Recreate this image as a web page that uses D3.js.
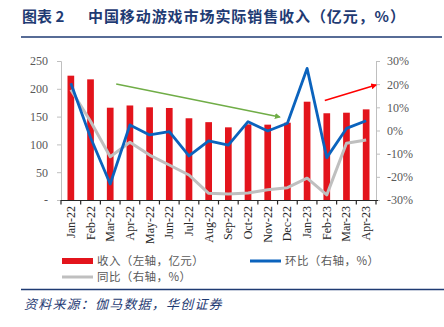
<!DOCTYPE html>
<html>
<head>
<meta charset="utf-8">
<script src="https://cdn.jsdelivr.net/npm/d3@7"></script>
<style>
  html, body { margin: 0; padding: 0; background: #fff; }
  svg { display: block; }
</style>
</head>
<body>
<svg id="chart" width="444" height="327"></svg>
<script>
// Monthly categories
const months = ["Jan-22","Feb-22","Mar-22","Apr-22","May-22","Jun-22","Jul-22","Aug-22",
                "Sep-22","Oct-22","Nov-22","Dec-22","Jan-23","Feb-23","Mar-23","Apr-23"];
// Actual sales revenue (100 million yuan), left axis
const revenue = [223.6, 217.0, 166.0, 170.0, 166.7, 165.5, 147.0, 140.0,
                 130.7, 136.0, 135.5, 139.0, 176.8, 156.0, 157.0, 163.0];
// Month-on-month change (%), right axis
const mom = [20.4, -3.0, -23.1, 2.4, -1.9, -0.5, -11.0, -4.5,
             -6.3, 3.8, -0.2, 3.1, 26.8, -11.7, 0.9, 4.2];
// Year-on-year change (%), right axis
const yoy = [17.6, 4.0, -11.3, -5.1, -10.6, -14.9, -19.2, -27.1,
             -27.4, -27.0, -25.6, -24.7, -20.6, -27.8, -5.5, -4.1];
// Axis tick values
const leftTicks = [0, 50, 100, 150, 200, 250];
const rightTicks = [-30, -20, -10, 0, 10, 20, 30];

const svg = d3.select("#chart");
const plot = { left: 61, right: 376, top: 61, bottom: 200 };

const serif = "'Liberation Serif', 'DejaVu Serif', serif";
const cjk = "'Noto Sans CJK SC', sans-serif";
const navy = "#1f3b73";

// Title and rules
svg.append("text").attr("x", 22).attr("y", 22)
  .attr("font-family", cjk).attr("font-weight", 700).attr("font-size", 15)
  .attr("fill", navy).text("图表 2");
svg.append("text").attr("x", 88).attr("y", 22)
  .attr("font-family", cjk).attr("font-weight", 700).attr("font-size", 15)
  .attr("fill", navy)
  .attr("textLength", 317).attr("lengthAdjust", "spacing")
  .text("中国移动游戏市场实际销售收入（亿元，%）");
svg.append("line").attr("x1", 21).attr("x2", 442).attr("y1", 37).attr("y2", 37)
  .attr("stroke", navy).attr("stroke-width", 1.5);
svg.append("line").attr("x1", 21).attr("x2", 444).attr("y1", 289.5).attr("y2", 289.5)
  .attr("stroke", navy).attr("stroke-width", 1.5);

// Scales
const x = d3.scaleBand().domain(months).range([plot.left, plot.right])
  .paddingInner(0.66).paddingOuter(0.33);
const yL = d3.scaleLinear().domain([0, 250]).range([plot.bottom, plot.top]);
const yR = d3.scaleLinear().domain([-30, 30]).range([plot.bottom, plot.top]);
const cx = d => x(d) + x.bandwidth() / 2;

// Left axis
const gL = svg.append("g").attr("transform", `translate(${plot.left},0)`)
  .call(d3.axisLeft(yL).tickValues(leftTicks).tickSize(4).tickPadding(9)
    .tickFormat(d => d === 0 ? "-  " : d));
gL.select(".domain").attr("stroke", "#bfbfbf");
gL.selectAll(".tick line").attr("stroke", "#bfbfbf");
gL.selectAll(".tick text").attr("font-family", serif).attr("font-size", 12)
  .attr("fill", "#595959");

// Right axis
const gR = svg.append("g").attr("transform", `translate(${plot.right},0)`)
  .call(d3.axisRight(yR).tickValues(rightTicks).tickSize(4).tickPadding(7)
    .tickFormat(d => d + "%"));
gR.select(".domain").attr("stroke", "#bfbfbf");
gR.selectAll(".tick line").attr("stroke", "#bfbfbf");
gR.selectAll(".tick text").attr("font-family", serif).attr("font-size", 12)
  .attr("fill", "#595959");

// Revenue bars
svg.append("g").selectAll("rect").data(months).join("rect")
  .attr("x", d => x(d)).attr("width", x.bandwidth())
  .attr("y", (d, i) => yL(revenue[i]))
  .attr("height", (d, i) => yL(0) - yL(revenue[i]))
  .attr("fill", "#e3141c");

// Bottom axis with ticks between categories
const step = x.step();
const gX = svg.append("g");
gX.append("line").attr("x1", plot.left).attr("x2", plot.right + 2)
  .attr("y1", plot.bottom + 0.5).attr("y2", plot.bottom + 0.5)
  .attr("stroke", "#262626").attr("stroke-width", 1.2);
gX.selectAll("line.tk").data(d3.range(months.length + 1)).join("line")
  .attr("class", "tk")
  .attr("x1", i => plot.left + i * step).attr("x2", i => plot.left + i * step)
  .attr("y1", plot.bottom).attr("y2", plot.bottom + 4.5)
  .attr("stroke", "#262626").attr("stroke-width", 1.2);
gX.selectAll("text").data(months).join("text")
  .attr("transform", d => `translate(${cx(d) + 4},${plot.bottom + 6}) rotate(-90)`)
  .attr("text-anchor", "end")
  .attr("font-family", serif).attr("font-size", 12).attr("fill", "#262626")
  .text(d => d);

// Lines
const lineGen = vals => d3.line()
  .x((d, i) => cx(months[i]))
  .y(d => yR(d))(vals);
svg.append("path").attr("d", lineGen(yoy)).attr("fill", "none")
  .attr("stroke", "#bfbfbf").attr("stroke-width", 3).attr("stroke-linejoin", "round");
svg.append("path").attr("d", lineGen(mom)).attr("fill", "none")
  .attr("stroke", "#0b63bd").attr("stroke-width", 2.8).attr("stroke-linejoin", "round");

// Trend arrows
const defs = svg.append("defs");
[["ag", "#70ad47"], ["ar", "#ff0000"]].forEach(([id, c]) => {
  defs.append("marker").attr("id", id).attr("viewBox", "0 0 10 10")
    .attr("refX", 8).attr("refY", 5).attr("markerWidth", 6).attr("markerHeight", 6)
    .attr("markerUnits", "userSpaceOnUse").attr("orient", "auto")
    .append("path").attr("d", "M0,0 L10,5 L0,10 z").attr("fill", c);
});
// downward trend over 2022, upward trend into 2023
svg.append("line")
  .attr("x1", cx("Mar-22") + 6).attr("y1", 84)
  .attr("x2", cx("Nov-22") + 12).attr("y2", 117)
  .attr("stroke", "#70ad47").attr("stroke-width", 1.5).attr("marker-end", "url(#ag)");
svg.append("line")
  .attr("x1", cx("Feb-23") - 2).attr("y1", 100.5)
  .attr("x2", plot.right).attr("y2", 85)
  .attr("stroke", "#ff0000").attr("stroke-width", 1.5).attr("marker-end", "url(#ar)");

// Legend
const legend = [
  { label: "收入（左轴，亿元）", x: 62, y: 261, type: "bar", color: "#e3141c" },
  { label: "环比（右轴，%）", x: 250, y: 261, type: "line", color: "#0b63bd" },
  { label: "同比（右轴，%）", x: 62, y: 277, type: "line", color: "#bfbfbf" }
];
const lg = svg.append("g").selectAll("g").data(legend).join("g");
lg.append("rect")
  .attr("x", d => d.x).attr("width", 31)
  .attr("y", d => d.type === "bar" ? d.y - 3 : d.y - 1.5)
  .attr("height", d => d.type === "bar" ? 6 : 3)
  .attr("fill", d => d.color);
lg.append("text").attr("x", d => d.x + 35).attr("y", d => d.y + 4)
  .attr("font-family", cjk).attr("font-size", 11.5).attr("fill", "#595959")
  .attr("letter-spacing", 0.4)
  .text(d => d.label);

// Source note
svg.append("text").attr("x", 24).attr("y", 309)
  .attr("font-family", cjk).attr("font-size", 13).attr("font-style", "italic")
  .attr("fill", navy).attr("letter-spacing", 1.2)
  .text("资料来源：伽马数据，华创证券");
</script>
</body>
</html>
